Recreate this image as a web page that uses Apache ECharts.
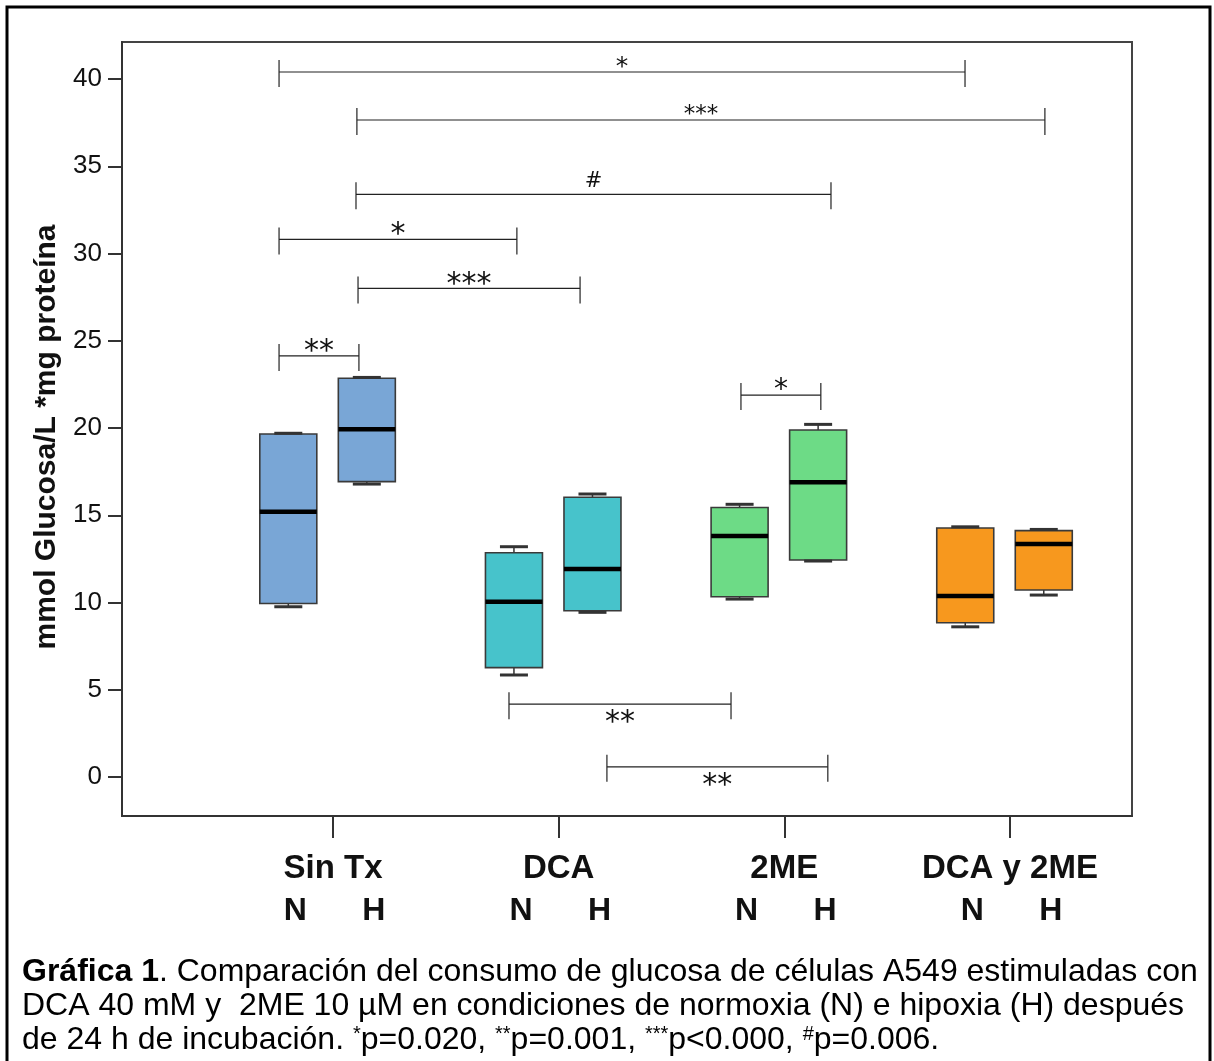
<!DOCTYPE html>
<html>
<head>
<meta charset="utf-8">
<script src="https://cdn.jsdelivr.net/npm/echarts@6/dist/echarts.min.js"></script>
<style>
  html, body { margin: 0; padding: 0; background: #fff; }
  #chart { width: 1214px; height: 1061px; }
</style>
</head>
<body>
<div id="chart"></div>
<script>
// ---------------- DATA ----------------
const categories = ['Sin Tx', 'DCA', '2ME', 'DCA y 2ME'];
const conditions = ['N', 'H'];
// one entry per box: Sin Tx N, Sin Tx H, DCA N, DCA H, 2ME N, 2ME H, DCA y 2ME N, DCA y 2ME H
const boxGroup = [0, 0, 1, 1, 2, 2, 3, 3];
const boxCond  = [0, 1, 0, 1, 0, 1, 0, 1];
const whiskerLow  = [9.76, 16.79, 5.85, 9.44, 10.20, 12.38, 8.61, 10.43];
const quartile1   = [9.95, 16.93, 6.27, 9.53, 10.33, 12.44, 8.84, 10.72];
const medians     = [15.20, 19.93, 10.05, 11.92, 13.81, 16.89, 10.37, 13.35];
const quartile3   = [19.66, 22.85, 12.85, 16.03, 15.45, 19.89, 14.27, 14.12];
const whiskerHigh = [19.70, 22.90, 13.20, 16.22, 15.63, 20.21, 14.34, 14.19];
const yTicks = [0, 5, 10, 15, 20, 25, 30, 35, 40];
// significance brackets (x in category units, y in axis units)
const sigLabels = ['*', '***', '#', '*', '***', '**', '*', '**', '**'];
const sigFrom   = [-0.239, 0.106, 0.102, -0.239, 0.111, -0.239, 1.808, 0.780, 1.214];
const sigTo     = [2.801, 3.155, 2.207, 0.815, 1.095, 0.115, 2.162, 1.764, 2.193];
const sigY      = [40.40, 37.65, 33.39, 30.81, 28.00, 24.13, 21.89, 4.18, 0.59];
const yAxisTitle = 'mmol Glucosa/L *mg proteína';
const captionLine1 = '{b|Gráfica 1}. Comparación del consumo de glucosa de células A549 estimuladas con';
const captionLine2 = 'DCA 40 mM y  2ME 10 µM en condiciones de normoxia (N) e hipoxia (H) después';
const captionLine3 = 'de 24 h de incubación. {s|*}p=0.020, {s|**}p=0.001, {s|***}p<0.000, {s|#}p=0.006.';

// ---------------- STYLE ----------------
const FONT = '"Liberation Sans", Arial, sans-serif';
const STAR_FONT = '"DejaVu Sans", sans-serif';
const groupColors = ['#79A6D6', '#47C3CB', '#6DDB86', '#F7981E'];
const condOffset = [-0.198, 0.150];   // box position relative to group tick
const BOX_HALF = 28.5, CAP_HALF = 14;
const sigBelow = [false, false, false, false, false, false, false, true, true];
const sigFont  = [25, 23, 21, 30, 30, 30, 28, 30, 30];

const boxData = boxGroup.map((g, i) => [
  g + condOffset[boxCond[i]], whiskerLow[i], quartile1[i], medians[i], quartile3[i], whiskerHigh[i], g
]);
const condLabelData = boxGroup.map((g, i) => [g + condOffset[boxCond[i]], boxCond[i]]);
const sigData = sigLabels.map((l, i) => [sigFrom[i], sigTo[i], sigY[i], i]);

function renderBox(params, api) {
  const x = api.value(0);
  const gi = api.value(6);
  const lo = api.coord([x, api.value(1)]);
  const q1 = api.coord([x, api.value(2)]);
  const md = api.coord([x, api.value(3)]);
  const q3 = api.coord([x, api.value(4)]);
  const hi = api.coord([x, api.value(5)]);
  const cx = lo[0];
  const wStyle = { stroke: '#333', lineWidth: 1.5 };
  return {
    type: 'group',
    children: [
      { type: 'line', shape: { x1: cx, y1: q3[1], x2: cx, y2: hi[1] }, style: wStyle },
      { type: 'line', shape: { x1: cx, y1: q1[1], x2: cx, y2: lo[1] }, style: wStyle },
      { type: 'rect', shape: { x: cx - BOX_HALF, y: q3[1], width: 2 * BOX_HALF, height: q1[1] - q3[1] },
        style: { fill: groupColors[gi], stroke: '#3a3a3a', lineWidth: 1.6 } },
      { type: 'line', shape: { x1: cx - BOX_HALF, y1: md[1], x2: cx + BOX_HALF, y2: md[1] },
        style: { stroke: '#000', lineWidth: 4.5 } },
      { type: 'line', shape: { x1: cx - CAP_HALF, y1: hi[1], x2: cx + CAP_HALF, y2: hi[1] },
        style: { stroke: '#333', lineWidth: 3 } },
      { type: 'line', shape: { x1: cx - CAP_HALF, y1: lo[1], x2: cx + CAP_HALF, y2: lo[1] },
        style: { stroke: '#333', lineWidth: 3 } }
    ]
  };
}

function renderSig(params, api) {
  const y = api.value(2);
  const a = api.coord([api.value(0), y]);
  const b = api.coord([api.value(1), y]);
  const i = api.value(3);
  const label = sigLabels[i];
  const fs = sigFont[i];
  const ls = { stroke: '#222', lineWidth: 1.2 };
  const isStar = label.indexOf('*') >= 0;
  let ty;
  if (sigBelow[i]) ty = a[1] + 13;
  else ty = a[1] - (isStar ? 10 : 13);
  if (isStar) ty += 0.21 * fs;
  return {
    type: 'group',
    children: [
      { type: 'line', shape: { x1: a[0], y1: a[1], x2: b[0], y2: b[1] }, style: ls },
      { type: 'line', shape: { x1: a[0], y1: a[1] - 12, x2: a[0], y2: a[1] + 15 }, style: ls },
      { type: 'line', shape: { x1: b[0], y1: b[1] - 12, x2: b[0], y2: b[1] + 15 }, style: ls },
      { type: 'text', x: (a[0] + b[0]) / 2, y: ty,
        style: { text: label, fill: '#111', fontSize: fs, fontFamily: STAR_FONT, align: 'center', verticalAlign: 'middle' } }
    ]
  };
}

function renderCond(params, api) {
  const p = api.coord([api.value(0), 0]);
  return {
    type: 'text', x: p[0] + 7, y: 911,
    style: { text: conditions[api.value(1)], fill: '#111', fontSize: 32, fontWeight: 'bold',
             fontFamily: FONT, align: 'center', verticalAlign: 'middle' }
  };
}

const chart = echarts.init(document.getElementById('chart'), null, { renderer: 'canvas' });
chart.setOption({
  animation: false,
  backgroundColor: '#fff',
  grid: { left: 122, right: 82, top: 42, bottom: 245, show: true, borderColor: '#444', borderWidth: 2, backgroundColor: 'transparent' },
  xAxis: {
    type: 'value', min: -0.935, max: 3.541,
    axisLine: { show: true, onZero: false, lineStyle: { color: '#333', width: 2 } },
    axisTick: { show: true, customValues: [0, 1, 2, 3], length: 22, lineStyle: { color: '#333', width: 2 } },
    axisLabel: { customValues: [0, 1, 2, 3], formatter: v => categories[Math.round(v)] || '',
                 fontSize: 33, fontWeight: 'bold', color: '#111', fontFamily: FONT, margin: 36 },
    splitLine: { show: false }
  },
  yAxis: {
    type: 'value', min: -2.23, max: 42.12,
    name: yAxisTitle, nameLocation: 'middle', nameRotate: 90, nameGap: 60,
    nameTextStyle: { fontSize: 30, fontWeight: 'bold', color: '#111', fontFamily: FONT, padding: [0, 16, 0, 0] },
    axisLine: { show: true, onZero: false, lineStyle: { color: '#333', width: 2 } },
    axisTick: { show: true, customValues: yTicks, length: 14, lineStyle: { color: '#333', width: 2 } },
    axisLabel: { customValues: yTicks, fontSize: 26, color: '#111', fontFamily: FONT, margin: 20 },
    splitLine: { show: false }
  },
  series: [
    { type: 'custom', name: 'boxes', renderItem: renderBox, data: boxData,
      encode: { x: 0, y: [1, 2, 3, 4, 5] }, z: 3 },
    { type: 'custom', name: 'significance', renderItem: renderSig, data: sigData,
      encode: { x: [0, 1], y: 2 }, z: 4, clip: false },
    { type: 'custom', name: 'conditions', renderItem: renderCond, data: condLabelData,
      encode: { x: 0 }, z: 4, clip: false }
  ],
  graphic: [
    { type: 'rect', silent: true, shape: { x: 7, y: 7, width: 1203, height: 1070 },
      style: { fill: 'none', stroke: '#000', lineWidth: 3 } },
    { type: 'text', x: 22, y: 972, silent: true,
      style: { text: captionLine1, fontSize: 32, fontFamily: FONT, fill: '#000', verticalAlign: 'middle',
               rich: { b: { fontSize: 32, fontWeight: 'bold', fontFamily: FONT, fill: '#000' } } } },
    { type: 'text', x: 22, y: 1006, silent: true,
      style: { text: captionLine2, fontSize: 32, fontFamily: FONT, fill: '#000', verticalAlign: 'middle' } },
    { type: 'text', x: 22, y: 1040, silent: true,
      style: { text: captionLine3, fontSize: 32, fontFamily: FONT, fill: '#000', verticalAlign: 'middle',
               rich: { s: { fontSize: 20, fontFamily: FONT, fill: '#000', verticalAlign: 'top', lineHeight: 32 } } } }
  ]
});
</script>
</body>
</html>
